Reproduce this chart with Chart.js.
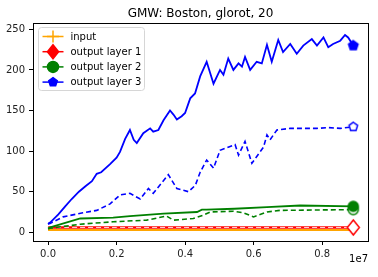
<!DOCTYPE html>
<html>
<head>
<meta charset="utf-8">
<script src="https://cdn.jsdelivr.net/npm/chart.js@4/dist/chart.umd.min.js"></script>
<style>
  html, body { margin: 0; padding: 0; background: #fff; }
</style>
</head>
<body>
<canvas id="gmwChart" width="378" height="277"></canvas>
<script>
// x values are in millions of steps (axis shows them as x 1e7)
const inputX = [0, 2, 4, 6, 8.91];
const inputY = [3, 3, 3, 3, 3];

const out1X = [0, 2, 4, 6, 8.91];
const out1Y = [6, 6, 6, 6, 6];
const out1TestY = [6, 6, 6, 6, 6];

const out2X = [0, 0.06, 0.94, 1.9, 2.39, 3.37, 4.35, 4.49, 4.63, 5.44, 6.39, 7.36, 8.91];
const out2Y = [5, 6, 17, 18, 20, 23, 25, 28, 28, 29, 31, 33, 32];
const out2TestX = [0, 0.06, 0.94, 1.9, 2.88, 3.46, 3.66, 4.24, 4.53, 4.73, 5.41, 5.7, 6.0, 6.39, 6.77, 8.91];
const out2TestY = [4, 5, 10, 13, 15, 20, 15, 17, 21, 25, 26, 24, 19, 25, 27, 28];

const out3X = [0, 0.06, 0.3, 0.5, 0.69, 0.9, 1.1, 1.28, 1.42, 1.55, 1.81, 2.0, 2.1, 2.25, 2.39, 2.5, 2.59, 2.78, 2.98, 3.07, 3.22, 3.37, 3.56, 3.66, 3.76, 3.9, 4.0, 4.15, 4.29, 4.44, 4.63, 4.83, 5.02, 5.12, 5.26, 5.41, 5.56, 5.66, 5.75, 5.9, 6.09, 6.24, 6.39, 6.53, 6.72, 6.86, 7.07, 7.26, 7.45, 7.7, 7.85, 8.04, 8.18, 8.32, 8.53, 8.67, 8.76, 8.91];
const out3Y = [10, 12, 22, 32, 41, 50, 57, 63, 72, 74, 84, 92, 99, 115, 126, 114, 110, 122, 128, 124, 126, 138, 150, 145, 139, 143, 147, 165, 171, 192, 210, 183, 200, 194, 214, 200, 208, 204, 216, 200, 210, 208, 231, 210, 237, 222, 232, 220, 230, 238, 230, 240, 228, 232, 236, 243, 240, 230];
const out3TestX = [0, 0.06, 0.44, 1.02, 1.42, 1.81, 2.1, 2.39, 2.69, 2.93, 3.07, 3.51, 3.76, 4.1, 4.3, 4.44, 4.63, 4.83, 5.02, 5.46, 5.56, 5.75, 5.95, 6.29, 6.39, 6.48, 6.68, 7.07, 7.36, 7.85, 8.19, 8.53, 8.91];
const out3TestY = [11, 11, 19, 24, 27, 35, 46, 48, 41, 54, 48, 71, 54, 50, 58, 74, 89, 79, 101, 108, 95, 112, 85, 105, 120, 114, 126, 128, 128, 128, 129, 128, 130];

const seriesNames = ['input', 'output layer 1', 'output layer 2', 'output layer 3'];
const titleText = 'GMW: Boston, glorot, 20';
const xTicks = [0, 2, 4, 6, 8];
const yTicks = [0, 50, 100, 150, 200, 250];

const FONT = '"DejaVu Sans", sans-serif';
const ORANGE = '#ffa500', RED = '#ff0000', GREEN = '#008000', BLUE = '#0000ff';

function pts(xs, ys) {
  return xs.map((x, i) => ({ x: x, y: ys[i] }));
}

function markerPath(ctx, kind, x, y, r) {
  ctx.beginPath();
  if (kind === 'diamond') {
    ctx.moveTo(x, y - r); ctx.lineTo(x + r * 0.8, y);
    ctx.lineTo(x, y + r); ctx.lineTo(x - r * 0.8, y); ctx.closePath();
  } else if (kind === 'circle') {
    ctx.arc(x, y, r, 0, Math.PI * 2);
  } else if (kind === 'pentagon') {
    for (let k = 0; k < 5; k++) {
      const a = -Math.PI / 2 + k * 2 * Math.PI / 5;
      const px = x + r * Math.cos(a), py = y + r * Math.sin(a);
      k === 0 ? ctx.moveTo(px, py) : ctx.lineTo(px, py);
    }
    ctx.closePath();
  } else if (kind === 'plus') {
    ctx.moveTo(x - r, y); ctx.lineTo(x + r, y);
    ctx.moveTo(x, y - r); ctx.lineTo(x, y + r);
  }
}

// little canvases so the line end markers go through chart.js pointStyle
function markerImage(kind, r, fill, stroke) {
  const c = document.createElement('canvas');
  const s = Math.ceil(r * 2 + 4);
  c.width = s; c.height = s;
  const g = c.getContext('2d');
  markerPath(g, kind, s / 2, s / 2, r);
  g.fillStyle = fill; g.fill();
  g.lineWidth = 1.5; g.strokeStyle = stroke; g.stroke();
  return c;
}

function lastOnly(r) {
  return ctx => ctx.dataIndex === ctx.dataset.data.length - 1 ? r : 0;
}

function lineSet(label, data, color, dashed, width, marker) {
  return {
    label: label,
    data: data,
    borderColor: color,
    borderWidth: width,
    borderDash: dashed ? [5, 3] : [],
    pointRadius: marker ? lastOnly(6) : 0,
    pointStyle: marker || 'circle',
    pointHoverRadius: 0,
    fill: false,
    tension: 0
  };
}

const datasets = [
  lineSet('output layer 3', pts(out3X, out3Y), BLUE, false, 1.8, markerImage('pentagon', 5, BLUE, BLUE)),
  lineSet('output layer 3 test', pts(out3TestX, out3TestY), BLUE, true, 1.6, markerImage('pentagon', 4.5, '#fff', BLUE)),
  lineSet('output layer 2', pts(out2X, out2Y), GREEN, false, 1.8, markerImage('circle', 5, GREEN, GREEN)),
  lineSet('output layer 2 test', pts(out2TestX, out2TestY), GREEN, true, 1.6, markerImage('circle', 5, '#fff', GREEN)),
  lineSet('output layer 1 test', pts(out1X, out1TestY), '#ffd8d8', true, 1, markerImage('diamond', 7.5, '#fff', RED)),
  lineSet('output layer 1', pts(out1X, out1Y), RED, false, 2.6, null),
  lineSet('input', pts(inputX, inputY), ORANGE, false, 2, null)
];

const legendItems = [
  { name: seriesNames[0], color: ORANGE, kind: 'plus', r: 6 },
  { name: seriesNames[1], color: RED, kind: 'diamond', r: 7 },
  { name: seriesNames[2], color: GREEN, kind: 'circle', r: 5.5 },
  { name: seriesNames[3], color: BLUE, kind: 'pentagon', r: 4.5 }
];

const mplDecor = {
  id: 'mplDecor',
  afterDraw(chart) {
    const ctx = chart.ctx;
    const a = chart.chartArea;
    ctx.save();
    // spines
    ctx.strokeStyle = '#000';
    ctx.lineWidth = 1;
    ctx.strokeRect(Math.round(a.left) + 0.5, Math.round(a.top) + 0.5,
      Math.round(a.right - a.left), Math.round(a.bottom - a.top));
    // title
    ctx.fillStyle = '#000';
    ctx.font = '12px ' + FONT;
    ctx.textAlign = 'center';
    ctx.textBaseline = 'alphabetic';
    ctx.fillText(titleText, (a.left + a.right) / 2, 17);
    // offset text
    ctx.font = '10px ' + FONT;
    ctx.textAlign = 'right';
    ctx.fillText('1e7', a.right, 262);
    // legend
    const bx = a.left + 5.5, by = a.top + 4.5, bw = 106, bh = 63;
    ctx.beginPath();
    ctx.roundRect(bx, by, bw, bh, 3);
    ctx.fillStyle = 'rgba(255,255,255,0.8)';
    ctx.fill();
    ctx.strokeStyle = '#d6d6d6';
    ctx.stroke();
    legendItems.forEach((it, i) => {
      const y = by + 9 + i * 15.2;
      ctx.strokeStyle = it.color;
      ctx.lineWidth = 1.5;
      ctx.beginPath();
      ctx.moveTo(bx + 4, y); ctx.lineTo(bx + 25, y);
      ctx.stroke();
      markerPath(ctx, it.kind, bx + 14.5, y, it.r);
      if (it.kind !== 'plus') { ctx.fillStyle = it.color; ctx.fill(); }
      ctx.stroke();
      ctx.fillStyle = '#000';
      ctx.font = '10px ' + FONT;
      ctx.textAlign = 'left';
      ctx.textBaseline = 'middle';
      ctx.fillText(it.name, bx + 32, y + 0.5);
    });
    ctx.restore();
  }
};

new Chart(document.getElementById('gmwChart'), {
  type: 'line',
  data: { datasets: datasets },
  options: {
    responsive: false,
    animation: false,
    devicePixelRatio: 1,
    layout: { padding: { top: 23, right: 10, left: 0, bottom: 0 } },
    scales: {
      x: {
        type: 'linear',
        min: -0.44,
        max: 9.34,
        afterFit: s => { s.height = 36; },
        afterBuildTicks: s => { s.ticks = xTicks.map(v => ({ value: v })); },
        grid: { drawOnChartArea: false, tickLength: 4, tickColor: '#000', tickWidth: 1 },
        border: { color: '#000' },
        ticks: {
          color: '#222',
          padding: 3,
          font: { family: FONT, size: 10 },
          maxRotation: 0,
          callback: v => (v / 10).toFixed(1)
        }
      },
      y: {
        min: -10.7,
        max: 257.8,
        afterFit: s => { s.width = 33; },
        afterBuildTicks: s => { s.ticks = yTicks.map(v => ({ value: v })); },
        grid: { drawOnChartArea: false, tickLength: 4, tickColor: '#000', tickWidth: 1 },
        border: { color: '#000' },
        ticks: {
          color: '#222',
          padding: 4,
          font: { family: FONT, size: 10 },
          callback: v => String(v)
        }
      }
    },
    plugins: {
      legend: { display: false },
      title: { display: false },
      tooltip: { enabled: false }
    }
  },
  plugins: [mplDecor]
});
</script>
</body>
</html>
